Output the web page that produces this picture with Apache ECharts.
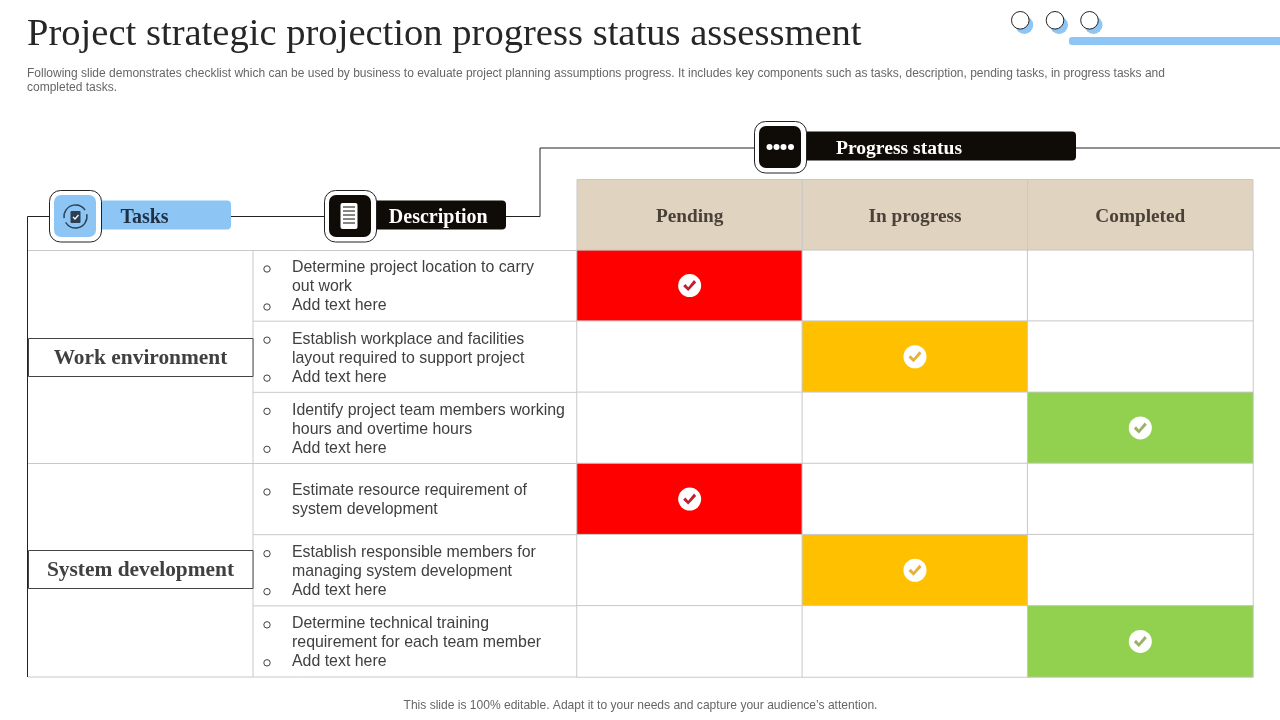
<!DOCTYPE html>
<html>
<head>
<meta charset="utf-8">
<style>html,body{margin:0;padding:0;background:#fff}#c{width:1280px;height:720px}</style>
<script src="https://cdn.jsdelivr.net/npm/echarts@6/dist/echarts.min.js"></script>
</head>
<body>
<div id="c"></div>
<script>
const titleText = "Project strategic projection progress status assessment";
const subtitleLines = [
  "Following slide demonstrates checklist which can be used by business to evaluate project planning assumptions progress. It includes key components such as tasks, description, pending tasks, in progress tasks and",
  "completed tasks."
];
const footerText = "This slide is 100% editable. Adapt it to your needs and capture your audience\u2019s attention.";
const statusColumns = ["Pending", "In progress", "Completed"];
const statusColors = ["#FF0000", "#FFC000", "#92D050"];
const checkColors = ["#C01F30", "#E3B23C", "#9CB06A"];
const taskRows = ["t1", "t2", "t3", "t4", "t5", "t6"];
const rowStatus = [0, 1, 2, 0, 1, 2];
const groups = [
  { name: "Work environment", boxTop: 339 },
  { name: "System development", boxTop: 551 }
];
const taskText = [
  [["Determine project location to carry", "out work"], ["Add text here"]],
  [["Establish workplace and facilities", "layout required to support project"], ["Add text here"]],
  [["Identify project team members working", "hours and overtime hours"], ["Add text here"]],
  [["Estimate resource requirement of", "system development"]],
  [["Establish responsible members for", "managing system development"], ["Add text here"]],
  [["Determine technical training", "requirement for each team member"], ["Add text here"]]
];

const SERIF = '"Liberation Serif", serif';
const SANS = '"Liberation Sans", Arial, sans-serif';
const BLUE = "#8DC6F5", BLACK = "#0F0B06", GRID = "#C9C9C9", LINE = "#222222";
const rowH = 71.17, tableTop = 250;

const g = [];
function txt(text, x, y, o) {
  g.push({ type: "text", z: 20, style: Object.assign({ text, x, y, fontFamily: SANS, fontSize: 12, fill: "#666", textAlign: "left", textVerticalAlign: "middle" }, o) });
}
function rect(x, y, w, h, o, r) {
  g.push({ type: "rect", z: (o && o.z0) || 10, shape: { x, y, width: w, height: h, r: r || 0 }, style: o });
}
function seg(x1, y1, x2, y2, stroke, w) {
  g.push({ type: "line", z: 9, shape: { x1, y1, x2, y2 }, style: { stroke: stroke || LINE, lineWidth: w || 1 } });
}
function circ(cx, cy, r, o) {
  g.push({ type: "circle", z: 12, shape: { cx, cy, r }, style: o });
}

// title block
txt(titleText, 27, 35, { fontFamily: SERIF, fontSize: 38.6, fill: "#262626" });
txt(subtitleLines[0], 27, 73.5, {});
txt(subtitleLines[1], 27, 87.5, {});
txt(footerText, 640.5, 705.5, { textAlign: "center", fontSize: 12.05 });

// top-right decoration
[1020.3, 1055, 1089.5].forEach(x => {
  circ(x + 4, 25, 9, { fill: BLUE });
  circ(x, 20.3, 8.8, { fill: "#fff", stroke: "#222", lineWidth: 1 });
});
rect(1069, 37, 211, 8, { fill: BLUE }, [3, 0, 0, 3]);

// connectors
seg(27.5, 216.5, 27.5, 677);
seg(27.5, 216.5, 50, 216.5);
seg(231, 216.5, 325, 216.5);
seg(506, 216.5, 540, 216.5);
seg(540, 148, 540, 216.5);
seg(540, 148, 755, 148);
seg(1076, 148, 1280, 148);

// left table lines
seg(28, 250.5, 577, 250.5, GRID);
seg(28, 463.5, 577, 463.5, GRID);
seg(28, 677, 577, 677, GRID);
seg(253, 250, 253, 677, GRID);
for (let i = 1; i < taskRows.length; i++) seg(253, tableTop + i * rowH, 577, tableTop + i * rowH, GRID);

// header cells (labels come from the axis)
statusColumns.forEach((c, i) => {
  const x = 577 + i * 225.33;
  rect(x, 179.5, 225.33, 70.5, { fill: "#E0D3C0", stroke: GRID, lineWidth: 1 });
});

// section tags
function tag(boxX, boxY, barW, barColor, label, labelX, labelSize, labelColor) {
  rect(boxX + 50, boxY + 10.5, barW, 29, { fill: barColor }, [0, 4, 4, 0]);
  rect(boxX, boxY + 0.5, 52, 51.5, { fill: "#fff", stroke: "#222", lineWidth: 1 }, 11);
  g.push({ type: "rect", z: 11, shape: { x: boxX + 4.5, y: boxY + 5, width: 42, height: 42, r: 7 }, style: { fill: barColor } });
  txt(label, labelX, boxY + 27.5, { fontFamily: SERIF, fontWeight: "bold", fontSize: labelSize, fill: labelColor, textAlign: "center" });
}
tag(49.5, 190, 131.5, BLUE, "Tasks", 144.5, 20, "#1F3044");
tag(324.5, 190, 131.5, BLACK, "Description", 438.3, 20, "#FFFFFF");
tag(754.5, 121, 271.5, BLACK, "Progress status", 899, 19.6, "#FFFFFF");

// tasks icon
g.push({ type: "arc", z: 12, shape: { cx: 75.5, cy: 216.5, r: 11.5, startAngle: 3.0, endAngle: 5.7 }, style: { stroke: "#2D3F50", fill: "none", lineWidth: 1.4 } });
g.push({ type: "arc", z: 12, shape: { cx: 75.5, cy: 216.5, r: 11.5, startAngle: -0.2, endAngle: 2.6 }, style: { stroke: "#2D3F50", fill: "none", lineWidth: 1.4 } });
rect(70.5, 211, 10, 12, { fill: "#2D3F50", z0: 12 }, 1);
g.push({ type: "polyline", z: 13, shape: { points: [[73, 217], [75, 219], [78.5, 215]] }, style: { stroke: "#fff", fill: "none", lineWidth: 1.2 } });
// description icon
rect(340.5, 203, 17, 26, { fill: "#fff", z0: 12 }, 2);
[207, 211, 215, 219, 223].forEach(y => g.push({ type: "line", z: 13, shape: { x1: 343, y1: y, x2: 355, y2: y }, style: { stroke: BLACK, lineWidth: 1 } }));
// progress icon
[769.5, 776.5, 783.5, 791].forEach(x => circ(x, 147, 3, { fill: "#fff" }));

// group labels
groups.forEach(gr => {
  rect(28.5, gr.boxTop - 0.5, 224.5, 38, { fill: "#fff", stroke: "#444", lineWidth: 1 });
  txt(gr.name, 140.5, gr.boxTop + 19.5, { fontFamily: SERIF, fontWeight: "bold", fontSize: 21.4, fill: "#404040", textAlign: "center" });
});

// task descriptions
taskText.forEach((items, r) => {
  const mid = tableTop + (r + 0.5) * rowH;
  const n = items.reduce((a, b) => a + b.length, 0);
  let k = 0;
  items.forEach(lines => {
    lines.forEach((line, j) => {
      const y = mid + (k - (n - 1) / 2) * 19;
      if (j === 0) circ(267, y + 2.4, 3.2, { fill: "#fff", stroke: "#404040", lineWidth: 1 });
      txt(line, 292, y + 1.5, { fontSize: 15.9, fill: "#404040" });
      k++;
    });
  });
});

const cells = [];
taskRows.forEach((t, r) => statusColumns.forEach((c, i) => {
  const on = rowStatus[r] === i;
  cells.push({ value: [i, r, on ? 1 : 0], itemStyle: { color: on ? statusColors[i] : "#FFFFFF" } });
}));
const dots = rowStatus.map((s, r) => ({ value: [s, r] }));
const ticks = rowStatus.map((s, r) => ({ value: [s, r], itemStyle: { color: checkColors[s] } }));

const chart = echarts.init(document.getElementById("c"), null, { renderer: "canvas" });
chart.setOption({
  animation: false,
  backgroundColor: "#fff",
  grid: { left: 577, top: 250, width: 676, height: 427, containLabel: false },
  xAxis: {
    type: "category", position: "top", data: statusColumns,
    axisLine: { show: false }, axisTick: { show: false }, splitLine: { show: false },
    axisLabel: { margin: 23, fontFamily: SERIF, fontWeight: "bold", fontSize: 19.3, color: "#4A4238" }, z: 30
  },
  yAxis: {
    type: "category", inverse: true, data: taskRows,
    axisLine: { show: false }, axisTick: { show: false }, axisLabel: { show: false }, splitLine: { show: false }
  },
  series: [
    { type: "heatmap", data: cells, z: 2, itemStyle: { borderColor: GRID, borderWidth: 1 }, emphasis: { disabled: true } },
    { type: "scatter", data: dots, z: 3, symbol: "circle", symbolSize: 23, itemStyle: { color: "#fff", opacity: 1 }, silent: true },
    { type: "scatter", data: ticks, z: 4, symbol: "path://M2 12 L5 9 L9 13 L17 4 L20 7 L9 18 Z", symbolSize: [13, 11], itemStyle: { opacity: 1 }, silent: true }
  ],
  graphic: { elements: g }
});
</script>
</body>
</html>
